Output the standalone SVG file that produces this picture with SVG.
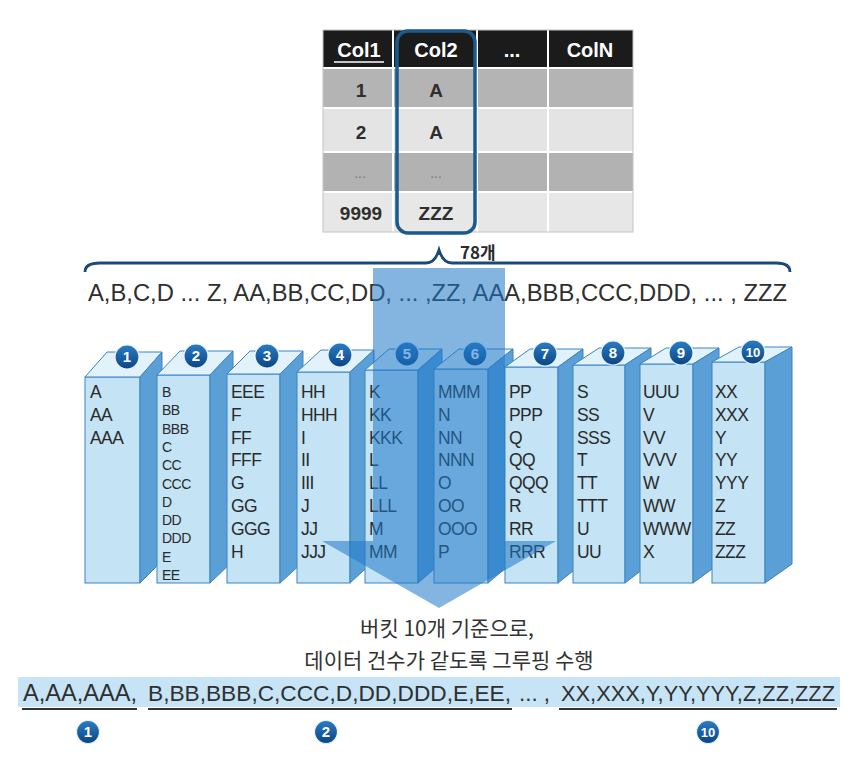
<svg xmlns="http://www.w3.org/2000/svg" width="856" height="760" viewBox="0 0 856 760">
<defs>
<linearGradient id="bg" x1="0" y1="0" x2="0" y2="1">
<stop offset="0" stop-color="#2b7cc4"/>
<stop offset="1" stop-color="#0b4585"/>
</linearGradient>
<style>
.hd{font-family:"Liberation Sans",Arial,sans-serif;font-size:20px;font-weight:bold;fill:#fff;text-anchor:middle}
.cell{font-family:"Liberation Sans",Arial,sans-serif;font-size:19px;font-weight:bold;fill:#2e2e2e;text-anchor:middle}
.dots{font-family:"Liberation Sans",Arial,sans-serif;font-size:14px;fill:#777;text-anchor:middle}
.seq{font-family:"Liberation Sans",Arial,sans-serif;font-size:24px;fill:#2f2f2f}
.kr{font-family:"Noto Sans CJK KR","Noto Sans",sans-serif;font-size:21px;fill:#333;text-anchor:middle}
.bt{font-family:"Liberation Sans",Arial,sans-serif;font-size:17.5px;fill:#2a2a2a;letter-spacing:-0.6px}
.bt2{font-family:"Liberation Sans",Arial,sans-serif;font-size:14px;fill:#2a2a2a;letter-spacing:-0.5px}
.front{fill:#c4e3f4;stroke:#3c84c4;stroke-width:1}
.top{fill:#e2f2fb;stroke:#3c84c4;stroke-width:1}
.side{fill:#5a9fd5;stroke:#3c84c4;stroke-width:1}
.bc{fill:url(#bg);stroke:#e8f4fb;stroke-width:1.2}
.bn{font-family:"Liberation Sans",Arial,sans-serif;font-size:15px;font-weight:bold;fill:#fff;text-anchor:middle}
.ul{stroke:#333;stroke-width:2}
.grid{stroke:#fff;stroke-width:2}
</style>
</defs>
<rect width="856" height="760" fill="#fff"/>

<g id="table">
<rect x="323" y="30" width="310" height="38" fill="#1b1b1b"/>
<rect x="323" y="68" width="310" height="40" fill="#b4b4b4"/>
<rect x="323" y="108" width="310" height="44" fill="#e4e4e4"/>
<rect x="323" y="152" width="310" height="40" fill="#b2b2b2"/>
<rect x="323" y="192" width="310" height="40" fill="#e7e7e7"/>
<line class="grid" x1="323" y1="68" x2="633" y2="68"/>
<line class="grid" x1="323" y1="108" x2="633" y2="108"/>
<line class="grid" x1="323" y1="152" x2="633" y2="152"/>
<line class="grid" x1="323" y1="192" x2="633" y2="192"/>
<line class="grid" x1="393" y1="30" x2="393" y2="232"/>
<line class="grid" x1="477" y1="30" x2="477" y2="232"/>
<line class="grid" x1="548" y1="30" x2="548" y2="232"/>
<rect x="323" y="30" width="310" height="202" fill="none" stroke="#c4c4c4" stroke-width="1"/>
<text class="hd" x="359" y="57">Col1</text>
<line x1="334" y1="62" x2="384" y2="62" stroke="#fff" stroke-width="1.5"/>
<text class="hd" x="436" y="57">Col2</text>
<text class="hd" x="512" y="57">...</text>
<text class="hd" x="590" y="57">ColN</text>
<text class="cell" x="361" y="97">1</text>
<text class="cell" x="436" y="97">A</text>
<text class="cell" x="361" y="139">2</text>
<text class="cell" x="436" y="139">A</text>
<text class="dots" x="360" y="178">...</text>
<text class="dots" x="436" y="178">...</text>
<text class="cell" x="361" y="220">9999</text>
<text class="cell" x="436" y="220">ZZZ</text>
<rect x="397" y="31" width="78" height="202" rx="11" fill="none" stroke="#1d5a8c" stroke-width="3.5"/>
</g>

<g id="brace">
<path d="M85 272 Q85 263 100 263 L426 263 Q435 263 439 250 Q443 263 452 263 L776 263 Q790 263 790 272" fill="none" stroke="#1c4a78" stroke-width="2.8"/>
<text x="460" y="259" font-family="Noto Sans CJK KR, sans-serif" font-size="17" font-weight="bold" fill="#2a2a2a">78개</text>
<text class="seq" x="88" y="301" textLength="699" lengthAdjust="spacingAndGlyphs">A,B,C,D ... Z, AA,BB,CC,DD, ... ,ZZ, AAA,BBB,CCC,DDD, ... , ZZZ</text>
</g>

<g id="box1">
<rect class="front" x="85" y="377" width="55" height="206"/>
<polygon class="top" points="85,377 140,377 162,352 107,352"/>
<polygon class="side" points="140,377 162,352 162,561 140,583"/>
<circle class="bc" cx="127" cy="357" r="12"/><text class="bn" x="127" y="362">1</text>
<text class="bt" y="398"><tspan x="90">A</tspan><tspan x="90" dy="22.8">AA</tspan><tspan x="90" dy="22.8">AAA</tspan></text>
</g>
<g id="box2">
<rect class="front" x="157" y="375" width="53" height="208"/>
<polygon class="top" points="157,375 210,375 233,351 180,351"/>
<polygon class="side" points="210,375 233,351 233,561 210,583"/>
<circle class="bc" cx="196" cy="356" r="12"/><text class="bn" x="196" y="361">2</text>
<text class="bt2" y="397"><tspan x="162">B</tspan><tspan x="162" dy="18.3">BB</tspan><tspan x="162" dy="18.3">BBB</tspan><tspan x="162" dy="18.3">C</tspan><tspan x="162" dy="18.3">CC</tspan><tspan x="162" dy="18.3">CCC</tspan><tspan x="162" dy="18.3">D</tspan><tspan x="162" dy="18.3">DD</tspan><tspan x="162" dy="18.3">DDD</tspan><tspan x="162" dy="18.3">E</tspan><tspan x="162" dy="18.3">EE</tspan></text>
</g>
<g id="box3">
<rect class="front" x="227" y="374" width="53" height="209"/>
<polygon class="top" points="227,374 280,374 303,351 250,351"/>
<polygon class="side" points="280,374 303,351 303,562 280,583"/>
<circle class="bc" cx="267" cy="356" r="12"/><text class="bn" x="267" y="361">3</text>
<text class="bt" y="398"><tspan x="231">EEE</tspan><tspan x="231" dy="22.8">F</tspan><tspan x="231" dy="22.8">FF</tspan><tspan x="231" dy="22.8">FFF</tspan><tspan x="231" dy="22.8">G</tspan><tspan x="231" dy="22.8">GG</tspan><tspan x="231" dy="22.8">GGG</tspan><tspan x="231" dy="22.8">H</tspan></text>
</g>
<g id="box4">
<rect class="front" x="297" y="372" width="53" height="211"/>
<polygon class="top" points="297,372 350,372 374,350 321,350"/>
<polygon class="side" points="350,372 374,350 374,561 350,583"/>
<circle class="bc" cx="340" cy="355" r="12"/><text class="bn" x="340" y="360">4</text>
<text class="bt" y="398"><tspan x="301">HH</tspan><tspan x="301" dy="22.8">HHH</tspan><tspan x="301" dy="22.8">I</tspan><tspan x="301" dy="22.8">II</tspan><tspan x="301" dy="22.8">III</tspan><tspan x="301" dy="22.8">J</tspan><tspan x="301" dy="22.8">JJ</tspan><tspan x="301" dy="22.8">JJJ</tspan></text>
</g>
<g id="box5">
<rect class="front" x="365" y="370" width="53" height="213"/>
<polygon class="top" points="365,370 418,370 442,349 389,349"/>
<polygon class="side" points="418,370 442,349 442,562 418,583"/>
<circle class="bc" cx="407" cy="354" r="12"/><text class="bn" x="407" y="359">5</text>
<text class="bt" y="398"><tspan x="369">K</tspan><tspan x="369" dy="22.8">KK</tspan><tspan x="369" dy="22.8">KKK</tspan><tspan x="369" dy="22.8">L</tspan><tspan x="369" dy="22.8">LL</tspan><tspan x="369" dy="22.8">LLL</tspan><tspan x="369" dy="22.8">M</tspan><tspan x="369" dy="22.8">MM</tspan></text>
</g>
<g id="box6">
<rect class="front" x="434" y="369" width="54" height="214"/>
<polygon class="top" points="434,369 488,369 513,349 459,349"/>
<polygon class="side" points="488,369 513,349 513,562 488,583"/>
<circle class="bc" cx="475" cy="354" r="12"/><text class="bn" x="475" y="359">6</text>
<text class="bt" y="398"><tspan x="438">MMM</tspan><tspan x="438" dy="22.8">N</tspan><tspan x="438" dy="22.8">NN</tspan><tspan x="438" dy="22.8">NNN</tspan><tspan x="438" dy="22.8">O</tspan><tspan x="438" dy="22.8">OO</tspan><tspan x="438" dy="22.8">OOO</tspan><tspan x="438" dy="22.8">P</tspan></text>
</g>
<g id="box7">
<rect class="front" x="505" y="367" width="53" height="216"/>
<polygon class="top" points="505,367 558,367 583,349 530,349"/>
<polygon class="side" points="558,367 583,349 583,563 558,583"/>
<circle class="bc" cx="545" cy="354" r="12"/><text class="bn" x="545" y="359">7</text>
<text class="bt" y="398"><tspan x="509">PP</tspan><tspan x="509" dy="22.8">PPP</tspan><tspan x="509" dy="22.8">Q</tspan><tspan x="509" dy="22.8">QQ</tspan><tspan x="509" dy="22.8">QQQ</tspan><tspan x="509" dy="22.8">R</tspan><tspan x="509" dy="22.8">RR</tspan><tspan x="509" dy="22.8">RRR</tspan></text>
</g>
<g id="box8">
<rect class="front" x="573" y="365" width="52" height="218"/>
<polygon class="top" points="573,365 625,365 651,348 599,348"/>
<polygon class="side" points="625,365 651,348 651,563 625,583"/>
<circle class="bc" cx="613" cy="353" r="12"/><text class="bn" x="613" y="358">8</text>
<text class="bt" y="398"><tspan x="577">S</tspan><tspan x="577" dy="22.8">SS</tspan><tspan x="577" dy="22.8">SSS</tspan><tspan x="577" dy="22.8">T</tspan><tspan x="577" dy="22.8">TT</tspan><tspan x="577" dy="22.8">TTT</tspan><tspan x="577" dy="22.8">U</tspan><tspan x="577" dy="22.8">UU</tspan></text>
</g>
<g id="box9">
<rect class="front" x="640" y="364" width="53" height="219"/>
<polygon class="top" points="640,364 693,364 719,348 666,348"/>
<polygon class="side" points="693,364 719,348 719,564 693,583"/>
<circle class="bc" cx="681" cy="353" r="12"/><text class="bn" x="681" y="358">9</text>
<text class="bt" y="398"><tspan x="643">UUU</tspan><tspan x="643" dy="22.8">V</tspan><tspan x="643" dy="22.8">VV</tspan><tspan x="643" dy="22.8">VVV</tspan><tspan x="643" dy="22.8">W</tspan><tspan x="643" dy="22.8">WW</tspan><tspan x="643" dy="22.8">WWW</tspan><tspan x="643" dy="22.8">X</tspan></text>
</g>
<g id="box10">
<rect class="front" x="712" y="362" width="53" height="221"/>
<polygon class="top" points="712,362 765,362 792,347 739,347"/>
<polygon class="side" points="765,362 792,347 792,564 765,583"/>
<circle class="bc" cx="753" cy="352" r="12"/><text class="bn" x="753" y="357" style="font-size:13px">10</text>
<text class="bt" y="398"><tspan x="715">XX</tspan><tspan x="715" dy="22.8">XXX</tspan><tspan x="715" dy="22.8">Y</tspan><tspan x="715" dy="22.8">YY</tspan><tspan x="715" dy="22.8">YYY</tspan><tspan x="715" dy="22.8">Z</tspan><tspan x="715" dy="22.8">ZZ</tspan><tspan x="715" dy="22.8">ZZZ</tspan></text>
</g>

<g id="connectors">
<path d="M373 268 H505 V541 H556 L439 608 L322 541 H373 Z" fill="#1f78c8" fill-opacity="0.55"/>
</g>

<g id="caption">
<text class="kr" x="447" y="636">버킷 10개 기준으로,</text>
<text class="kr" x="449" y="668">데이터 건수가 같도록 그루핑 수행</text>
</g>

<g id="result">
<rect x="18" y="677" width="822" height="30" fill="#c6e4f5"/>
<text class="seq" x="23" y="701" textLength="114" lengthAdjust="spacingAndGlyphs">A,AA,AAA,</text>
<text class="seq" x="148" y="701" style="font-size:22.5px" textLength="363" lengthAdjust="spacingAndGlyphs">B,BB,BBB,C,CCC,D,DD,DDD,E,EE,</text>
<text class="seq" x="519" y="701" style="font-size:22px" textLength="31" lengthAdjust="spacingAndGlyphs">... ,</text>
<text class="seq" x="561" y="701" style="font-size:21.5px" textLength="274" lengthAdjust="spacingAndGlyphs">XX,XXX,Y,YY,YYY,Z,ZZ,ZZZ</text>
<line class="ul" x1="22" y1="709" x2="137" y2="709"/>
<line class="ul" x1="148" y1="709" x2="512" y2="709"/>
<line class="ul" x1="559" y1="709" x2="837" y2="709"/>
<circle class="bc" cx="88" cy="732" r="11.5"/><text class="bn" x="88" y="737">1</text>
<circle class="bc" cx="326" cy="732" r="11.5"/><text class="bn" x="326" y="737">2</text>
<circle class="bc" cx="708" cy="732" r="11.5"/><text class="bn" x="708" y="737" style="font-size:13px">10</text>
</g>
</svg>
